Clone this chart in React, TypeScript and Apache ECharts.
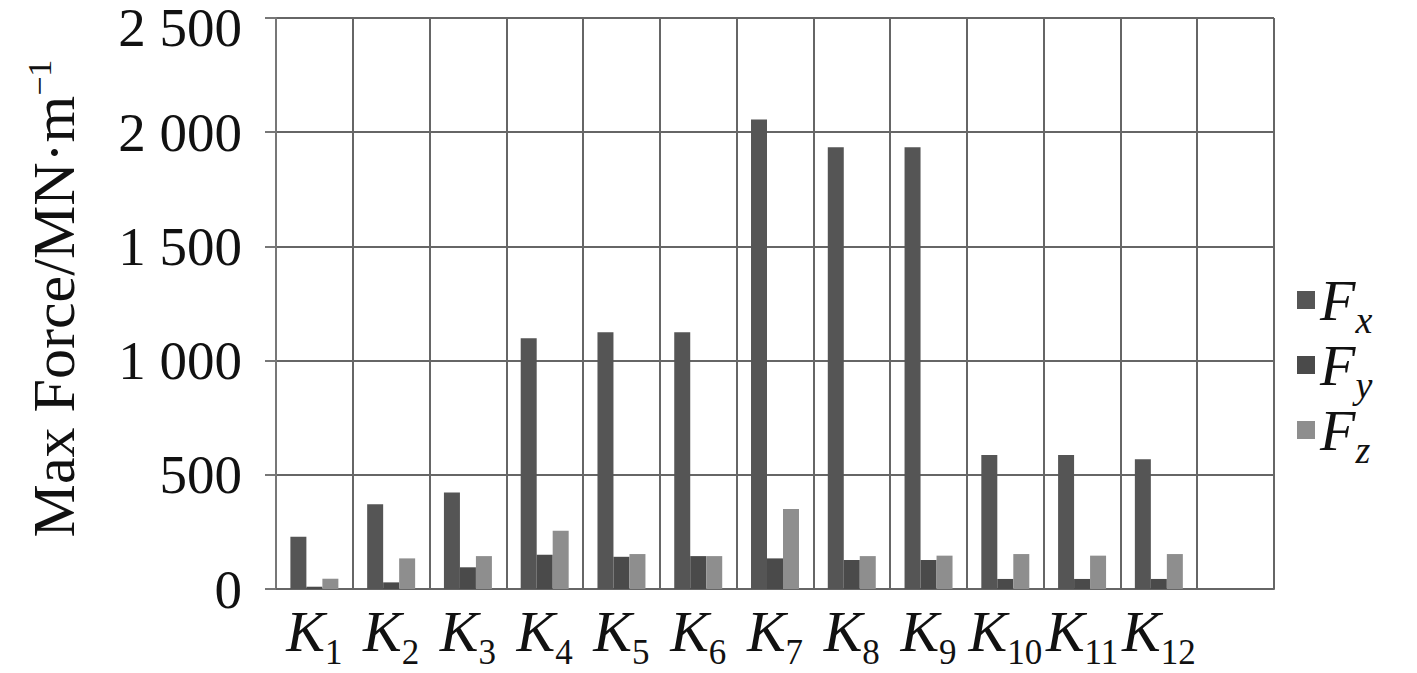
import React, { useEffect, useRef } from "react";
import * as echarts from "echarts";

const categories = ["1", "2", "3", "4", "5", "6", "7", "8", "9", "10", "11", "12", ""];
const seriesNames = ["Fx", "Fy", "Fz"];
const fx = [229, 371, 422, 1098, 1124, 1124, 2056, 1934, 1934, 587, 587, 568];
const fy = [10, 29, 95, 150, 141, 144, 134, 127, 127, 44, 44, 44];
const fz = [45, 134, 144, 255, 153, 144, 350, 144, 146, 153, 146, 153];
const yTicks = { min: 0, max: 2500, interval: 500 };
const colors = ["#555555", "#4a4a4a", "#8e8e8e"];

const SERIF = "'Liberation Serif', 'Times New Roman', serif";

export default function App() {
  const ref = useRef<HTMLDivElement>(null);
  useEffect(() => {
    if (!ref.current) return;
    const chart = echarts.init(ref.current, null, { renderer: "svg" });
    const data = [fx, fy, fz];
    chart.setOption({
      animation: false,
      backgroundColor: "#ffffff",
      grid: { left: 276, right: 143, top: 18, bottom: 84, containLabel: false, outerBoundsMode: "none" },
      legend: {
        orient: "vertical",
        left: 1292,
        top: 266,
        itemWidth: 18,
        itemHeight: 18,
        itemGap: -3,
        icon: "rect",
        data: seriesNames,
        formatter: (name: string) => `{f|F}{s|${name.slice(1)}}`,
        textStyle: {
          padding: [0, 0, 0, 0],
          rich: {
            f: { fontFamily: SERIF, fontStyle: "italic", fontSize: 58, lineHeight: 66, color: "#111" },
            s: { fontFamily: SERIF, fontStyle: "italic", fontSize: 38, padding: [0, 0, -6, 0], verticalAlign: "bottom", color: "#111" },
          },
        },
      },
      xAxis: {
        type: "category",
        data: categories,
        boundaryGap: true,
        axisLine: { show: true, lineStyle: { color: "#666", width: 2 } },
        axisTick: { show: false },
        splitLine: { show: true, lineStyle: { color: "#666", width: 2 } },
        axisLabel: {
          interval: 0,
          margin: 9,
          formatter: (v: string) => (v ? `{k|K}{s|${v}}` : ""),
          rich: {
            k: { fontFamily: SERIF, fontStyle: "italic", fontSize: 58, lineHeight: 66, color: "#111" },
            s: { fontFamily: SERIF, fontSize: 35, padding: [0, 0, -6, 0], verticalAlign: "bottom", color: "#111" },
          },
        },
      },
      yAxis: {
        type: "value",
        min: yTicks.min,
        max: yTicks.max,
        interval: yTicks.interval,
        name: "{n|Max Force/MN·m}{sup|−1}",
        nameLocation: "middle",
        nameGap: 190,
        nameRotate: 90,
        nameTextStyle: {
          padding: [0, 0, 0, 10],
          rich: {
            n: { fontFamily: SERIF, fontSize: 60, lineHeight: 64, color: "#111" },
            sup: { fontFamily: SERIF, fontSize: 34, lineHeight: 30, verticalAlign: "top", color: "#111" },
          },
        },
        axisLine: { show: true, lineStyle: { color: "#777", width: 2 } },
        axisTick: { show: true, length: 11, inside: false, lineStyle: { color: "#777", width: 2 } },
        splitLine: { show: true, lineStyle: { color: "#666", width: 2 } },
        axisLabel: {
          margin: 34,
          color: "#111",
          formatter: (v: number) => {
            const s = String(v);
            const t = s.length > 3 ? s.slice(0, s.length - 3) + " " + s.slice(-3) : s;
            return v === yTicks.max ? `{top|${t}}` : `{n|${t}}`;
          },
          rich: {
            n: { fontFamily: SERIF, fontSize: 55, color: "#111" },
            top: { fontFamily: SERIF, fontSize: 55, padding: [18, 0, 0, 0], color: "#111" },
          },
        },
      },
      series: seriesNames.map((n, i) => ({
        name: n,
        type: "bar",
        data: data[i],
        barGap: "0%",
        barCategoryGap: "37.5%",
        itemStyle: { color: colors[i] },
      })),
    });
    return () => chart.dispose();
  }, []);
  return (
    <div
      ref={ref}
      style={{ position: "fixed", left: 0, top: 0, width: 1417, height: 673, background: "#fff" }}
    />
  );
}
